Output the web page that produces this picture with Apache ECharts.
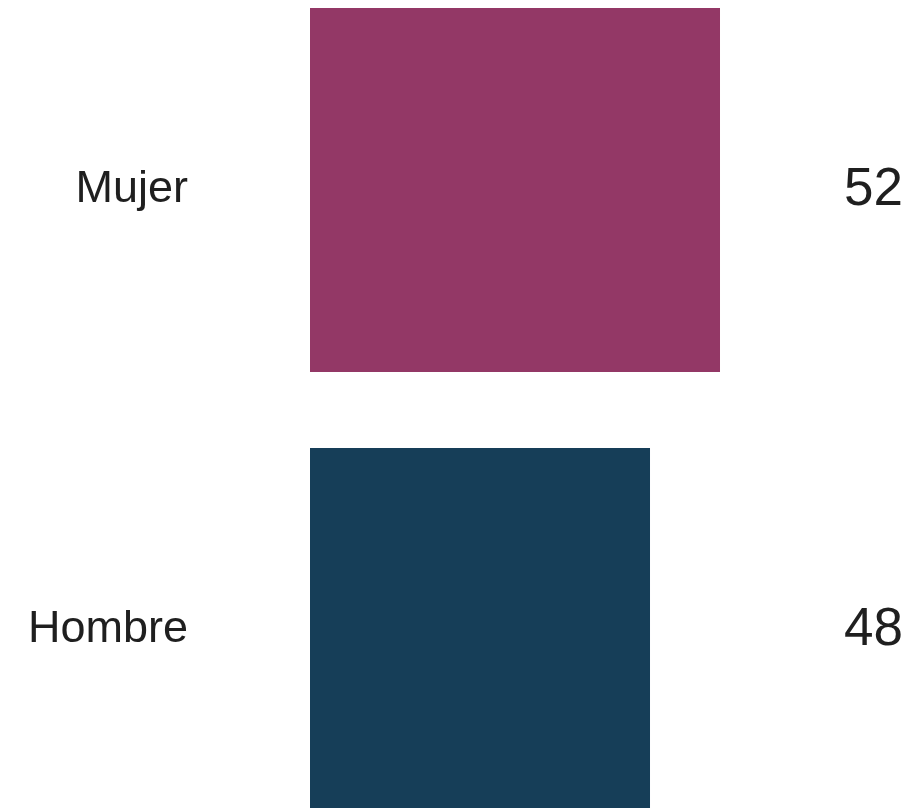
<!DOCTYPE html>
<html>
<head>
<meta charset="utf-8">
<style>
  html, body { margin: 0; padding: 0; background: #ffffff; }
  #chart { width: 919px; height: 808px; }
</style>
<script src="https://cdn.jsdelivr.net/npm/echarts@6/dist/echarts.min.js"></script>
</head>
<body>
<div id="chart"></div>
<script>
// 类别与数值
var categories = ["Mujer", "Hombre"];
var values = [52, 48];
var barColors = ["#933866", "#163e58"];

(function () {
  var myChart = echarts.init(document.getElementById("chart"));

  var option = {
    animation: false,
    grid: {
      left: 310,
      top: -30,
      width: 550,
      height: 880,
      containLabel: false,
      outerBoundsMode: "none",
    },
    xAxis: {
      type: "value",
      min: 28.57,
      max: 60,
      show: false,
    },
    yAxis: [
      {
        type: "category",
        inverse: true,
        data: categories,
        axisLine: { show: false },
        axisTick: { show: false },
        axisLabel: {
          margin: 122,
          align: "right",
          color: "#1f1f1f",
          fontFamily: "Liberation Sans",
          fontSize: 45,
        },
      },
      {
        // 右侧数值标签
        type: "category",
        inverse: true,
        position: "right",
        data: values.map(String),
        axisLine: { show: false },
        axisTick: { show: false },
        axisLabel: {
          margin: 43,
          align: "right",
          color: "#1f1f1f",
          fontFamily: "Liberation Sans",
          fontSize: 53,
        },
      },
    ],
    series: [
      {
        type: "bar",
        barWidth: 364,
        data: values.map(function (v, i) {
          return { value: v, itemStyle: { color: barColors[i] } };
        }),
      },
    ],
  };

  myChart.setOption(option);
  window.addEventListener("resize", function () {
    myChart.resize();
  });
})();
</script>
</body>
</html>
